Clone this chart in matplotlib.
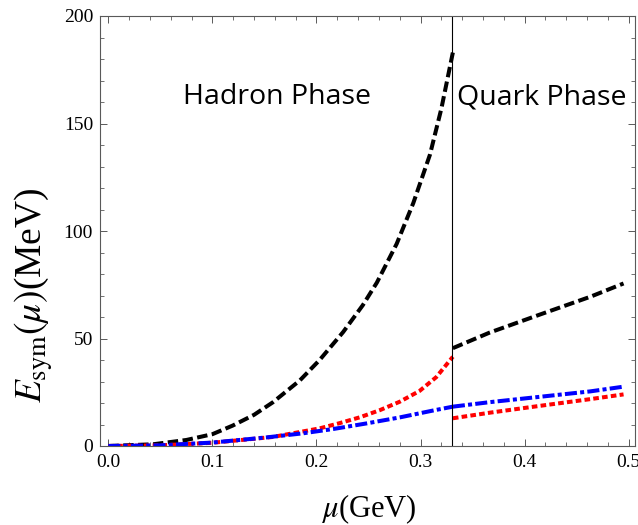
import matplotlib
matplotlib.use("Agg")
import matplotlib.pyplot as plt
from matplotlib.ticker import MultipleLocator

plt.rcParams['font.family'] = 'Liberation Serif'
plt.rcParams['mathtext.fontset'] = 'stix'

# Hadron phase (mu < 0.33 GeV)
mu_had_black = [0.0, 0.043, 0.075, 0.1, 0.1195, 0.14, 0.158, 0.184, 0.203, 0.2256, 0.2445, 0.258,
                0.277, 0.293, 0.309, 0.320, 0.331]
E_had_black = [0.0, 0.8, 2.8, 5.5, 9.5, 14.5, 20.3, 30.5, 40.0, 53.0, 65.5, 76.0,
               94.0, 113.0, 135.5, 157.0, 183.0]

mu_had_red = [0.0, 0.05, 0.1, 0.158, 0.203, 0.222, 0.242, 0.261, 0.280, 0.299, 0.315, 0.331]
E_had_red = [0.0, 0.3, 1.5, 4.2, 8.2, 10.6, 13.4, 16.7, 20.6, 25.6, 32.0, 41.5]

mu_had_blue = [0.0, 0.05, 0.1, 0.152, 0.187, 0.216, 0.248, 0.280, 0.312, 0.331]
E_had_blue = [0.0, 0.3, 1.6, 4.0, 5.9, 7.9, 10.5, 13.3, 16.5, 18.3]

# Quark phase (mu > 0.33 GeV)
mu_q = [0.331, 0.3666, 0.415, 0.463, 0.495]
E_q_black = [45.5, 52.8, 61.2, 69.4, 75.6]
E_q_blue = [18.3, 20.4, 22.9, 25.4, 27.6]
E_q_red = [12.9, 15.5, 18.7, 21.8, 24.0]

mu_transition = 0.33

fig = plt.figure(figsize=(6.38, 5.25), dpi=100)
ax = fig.add_axes([100 / 638, 1 - 446 / 525, 535 / 638, 430 / 525])

lw = 2.9
ax.plot(mu_had_black, E_had_black, color='black', lw=lw, dashes=(2.6, 1.1))
ax.plot(mu_had_red, E_had_red, color='red', lw=lw, dashes=(1.4, 0.8))
ax.plot(mu_had_blue, E_had_blue, color='blue', lw=lw, dashes=(3.0, 0.8, 1.0, 0.8))
ax.plot(mu_q, E_q_black, color='black', lw=lw, dashes=(2.6, 1.1))
ax.plot(mu_q, E_q_red, color='red', lw=lw, dashes=(1.4, 0.8))
ax.plot(mu_q, E_q_blue, color='blue', lw=lw, dashes=(3.0, 0.8, 1.0, 0.8))

ax.axvline(mu_transition, color='black', lw=0.8)

ax.xaxis.set_minor_locator(MultipleLocator(0.02))
ax.yaxis.set_major_locator(MultipleLocator(50))
ax.yaxis.set_minor_locator(MultipleLocator(10))
ax.set_xticks([0.0, 0.1, 0.2, 0.3, 0.4, 0.5])
ax.set_xticklabels(['0.0', '0.1', '0.2', '0.3', '0.4', '0.5'])
ax.set_xlim(-0.008, 0.506)
ax.set_ylim(0, 200)

ax.tick_params(which='both', direction='in', top=True, right=True, color='0.35', labelsize=14)
ax.tick_params(which='major', length=5, width=0.7)
ax.tick_params(which='minor', length=3, width=0.6)
ax.tick_params(axis='x', pad=6)
ax.tick_params(axis='y', pad=5)
for s in ax.spines.values():
    s.set_color('0.35')
    s.set_linewidth(0.8)

ax.text(0.162, 159, 'Hadron Phase', family='Open Sans', fontsize=20.5, ha='center', va='baseline')
ax.text(0.4165, 159, 'Quark Phase', family='Open Sans', fontsize=20.5, ha='center', va='baseline')

fig.text(369 / 638, 1 - 509 / 525, r'$\mu$(GeV)', fontsize=22, ha='center', va='center')
fig.text(34 / 638, 1 - 295 / 525, r'$E_{\rm sym}(\mu)$(MeV)', fontsize=27, ha='center', va='center',
         rotation=90)

fig.savefig('out.png', dpi=100)
